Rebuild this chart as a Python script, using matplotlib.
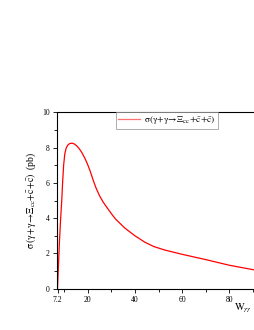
import matplotlib
matplotlib.use("Agg")
import matplotlib.pyplot as plt

# Data
w_gg = [7.2, 7.6, 8.0, 8.5, 9.0, 9.4, 9.8, 10.3, 10.9, 11.6, 12.4, 13.4, 14.4, 15.4,
        16.5, 17.6, 18.7, 19.8, 21.0, 22.4, 23.5, 25.0, 26.5, 28.7, 30.5, 32.0, 35.8,
        40.0, 44.3, 48.0, 52.7, 60.0, 70.0, 80.0, 90.0, 100.0]
sigma = [0.0, 1.3, 2.6, 3.9, 5.0, 6.1, 7.0, 7.65, 7.98, 8.15, 8.23, 8.25, 8.2, 8.09,
         7.92, 7.7, 7.42, 7.1, 6.68, 6.12, 5.72, 5.27, 4.92, 4.5, 4.17, 3.92, 3.43,
         3.0, 2.63, 2.39, 2.19, 1.95, 1.65, 1.33, 1.08, 0.82]
xticks = [7.2, 20, 40, 60, 80]
xtick_labels = ["7.2", "20", "40", "60", "80"]
yticks = [0, 2, 4, 6, 8, 10]

plt.rcParams['font.family'] = ['Liberation Serif', 'DejaVu Serif']
plt.rcParams['mathtext.fontset'] = 'stix'

fig = plt.figure(figsize=(2.55, 3.3), dpi=100)
W, H = 255.0, 330.0
left, right, top, bottom = 57.5, 276.5, 112.3, 288.7
ax = fig.add_axes([left / W, 1 - bottom / H, (right - left) / W, (bottom - top) / H])

ax.plot(w_gg, sigma, color='#ff0000', lw=0.9,
        label=r'$\mathrm{\sigma(\gamma\!+\!\gamma\!\rightarrow\!\Xi_{cc}\!+\!\bar{c}\!+\!\bar{c})}$')

ax.set_xlim(7.2, 100)
ax.set_ylim(0, 10)
ax.set_xticks(xticks)
ax.set_xticklabels(xtick_labels)
ax.set_xticks([10, 30, 50, 70, 90], minor=True)
ax.set_yticks(yticks)
ax.set_yticks([1, 3, 5, 7, 9], minor=True)
ax.tick_params(axis='both', which='major', direction='out', length=3, width=0.6,
               labelsize=5.5, pad=2.5)
ax.tick_params(axis='both', which='minor', direction='out', length=2, width=0.6)
ax.tick_params(top=False, right=False, which='both')
for s in ax.spines.values():
    s.set_linewidth(0.8)

ax.set_ylabel(r'$\mathrm{\sigma\,(\gamma\!+\!\gamma\!\rightarrow\!\Xi_{cc}\!+\!\bar{c}\!+\!\bar{c})}$  (pb)',
              fontsize=7, labelpad=3)
fig.text(243 / W, 1 - 308 / H, r'$\mathrm{W}_{\gamma\gamma}$', fontsize=7.5, ha='center', va='center')

leg = ax.legend(loc='upper center', bbox_to_anchor=(167 / W, 1 - 112 / H),
                bbox_transform=fig.transFigure, fontsize=6.7, frameon=True,
                fancybox=False, borderaxespad=0, handlelength=2.3,
                borderpad=0.25, handletextpad=0.5)
leg.get_frame().set_edgecolor('#888888')
leg.get_frame().set_linewidth(0.6)
for l in leg.get_lines():
    l.set_color('#ff7070')

fig.savefig('out.png', dpi=100)
